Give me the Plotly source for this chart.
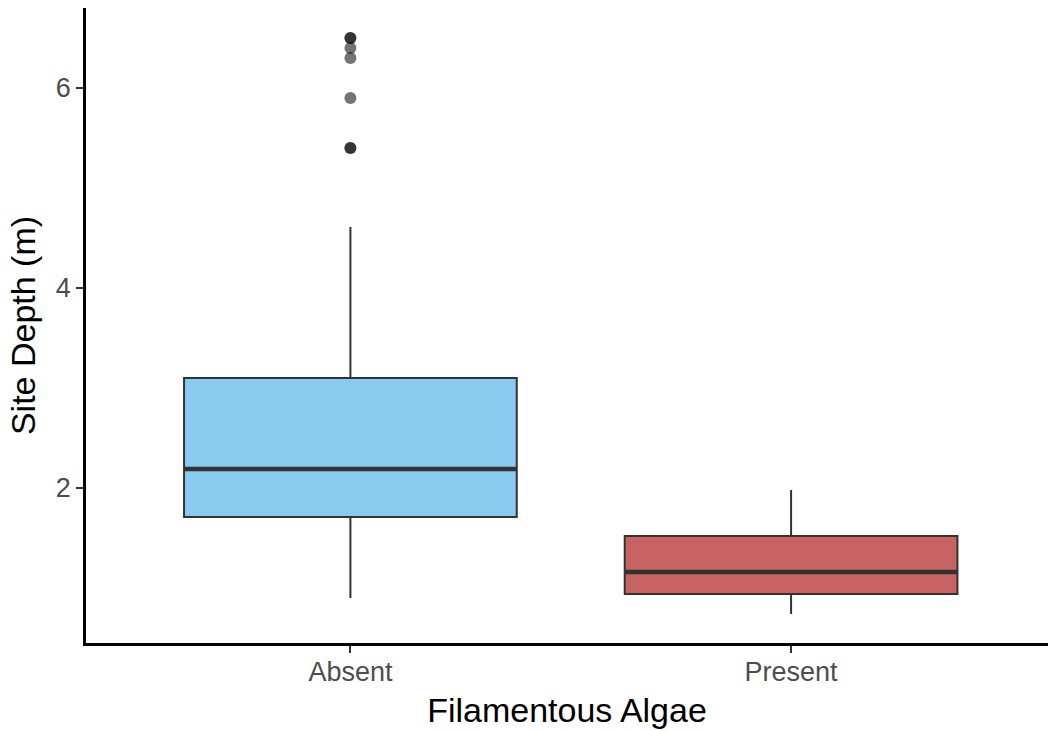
import plotly.graph_objects as go

# Site depth (m) summary per filamentous algae group
groups = ["Absent", "Present"]
lower_whisker = [0.90, 0.74]
q1 = [1.71, 0.94]
median = [2.19, 1.16]
q3 = [3.10, 1.52]
upper_whisker = [4.61, 1.98]
fill_colors = ["#89CAEF", "#C86363"]

# Outlying depths in the "Absent" group (repeated values overlap)
outlier_group = ["Absent"] * 7
outlier_depth = [6.5, 6.5, 6.4, 6.3, 5.9, 5.4, 5.4]

BOX_WIDTH = 0.755
fig = go.Figure()

for i, g in enumerate(groups):
    fig.add_trace(go.Box(
        x=[g],
        q1=[q1[i]], median=[median[i]], q3=[q3[i]],
        lowerfence=[lower_whisker[i]], upperfence=[upper_whisker[i]],
        width=BOX_WIDTH,
        fillcolor=fill_colors[i],
        line=dict(color="#333333", width=2),
        whiskerwidth=0,
        boxpoints=False,
        showlegend=False,
        hoverinfo="skip",
    ))

fig.add_trace(go.Scatter(
    x=outlier_group, y=outlier_depth, mode="markers",
    marker=dict(size=12, color="rgba(0,0,0,0.55)", line=dict(width=0)),
    showlegend=False, hoverinfo="skip",
))

# Thick median bars
for i, g in enumerate(groups):
    fig.add_shape(
        type="line", xref="x", yref="y",
        x0=i - BOX_WIDTH / 2, x1=i + BOX_WIDTH / 2,
        y0=median[i], y1=median[i],
        line=dict(color="#333333", width=4.5),
        layer="above",
    )

fig.update_layout(
    width=1048, height=731,
    margin=dict(l=86, r=0, t=8, b=88),
    paper_bgcolor="white", plot_bgcolor="white",
    boxmode="overlay",
    font=dict(family="Liberation Sans, Arial, sans-serif"),
)

fig.update_xaxes(
    type="category", categoryorder="array", categoryarray=groups,
    range=[-0.6, 1.583],
    showline=True, linecolor="black", linewidth=2.5,
    ticks="outside", ticklen=7, tickwidth=2, tickcolor="#333333",
    tickfont=dict(size=27, color="#4D4D4D"),
    ticklabelstandoff=-4,
    showgrid=False, zeroline=False,
    title=dict(text="Filamentous Algae", font=dict(size=34, color="black"), standoff=13),
)
fig.update_yaxes(
    range=[0.45, 6.80],
    tickvals=[2, 4, 6],
    showline=True, linecolor="black", linewidth=2.5,
    ticks="outside", ticklen=7, tickwidth=2, tickcolor="#333333",
    tickfont=dict(size=27, color="#4D4D4D"),
    showgrid=False, zeroline=False,
    title=dict(text="Site Depth (m)", font=dict(size=34, color="black"), standoff=10),
)

fig.write_html("out.html")
